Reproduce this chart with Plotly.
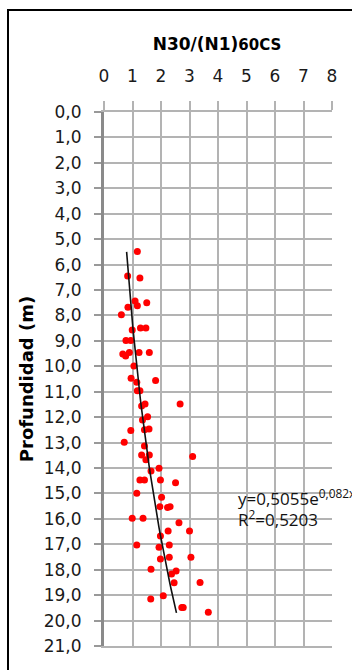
import numpy as np
import plotly.graph_objects as go

# N30/(N1)60cs values (x) and depth in m (y)
ratio = [1.17, 0.83, 1.26, 1.09, 1.17, 1.50, 0.84, 0.61, 0.99, 1.28, 1.47, 0.77, 0.94,
         0.66, 0.76, 0.89, 1.23, 1.59, 1.05, 0.95, 1.15, 1.81, 1.17, 1.26, 1.44, 1.32,
         2.67, 1.53, 1.35, 0.94, 1.42, 1.58, 0.71, 1.42, 1.32, 1.59, 1.47, 3.11, 1.65,
         1.93, 1.26, 1.42, 1.98, 2.51, 1.15, 2.02, 1.96, 2.23, 2.32, 0.99, 1.37, 2.63,
         2.25, 3.00, 1.98, 1.15, 1.93, 2.29, 1.98, 2.29, 3.05, 1.65, 2.53, 2.37, 2.46,
         3.37, 1.64, 2.08, 2.73, 2.78, 3.66]
depth = [5.49, 6.45, 6.53, 7.43, 7.62, 7.50, 7.68, 7.97, 8.57, 8.49, 8.49, 8.99, 8.99,
         9.52, 9.60, 9.46, 9.46, 9.46, 9.99, 10.47, 10.63, 10.56, 10.96, 10.96, 11.48, 11.56,
         11.48, 11.98, 12.11, 12.53, 12.50, 12.47, 12.99, 13.13, 13.49, 13.49, 13.68, 13.55, 14.12,
         14.01, 14.47, 14.47, 14.47, 14.58, 14.99, 15.15, 15.52, 15.55, 15.52, 15.98, 15.98, 16.15,
         16.48, 16.48, 16.67, 17.03, 17.12, 17.03, 17.58, 17.51, 17.51, 17.98, 18.05, 18.17, 18.51,
         18.50, 19.15, 19.02, 19.49, 19.49, 19.67]

# Exponential trendline y=0,5055e^(0,082x)
trend_a = 0.5055
trend_b = 0.082
trend_r2 = "0,5203"
trend_depth_start = 5.5
trend_depth_end = 19.7

x_ticks = list(range(0, 9))
y_ticks = list(range(0, 22))

td = np.linspace(trend_depth_start, trend_depth_end, 60)
tx = trend_a * np.exp(trend_b * td)

fig = go.Figure()
fig.add_trace(go.Scatter(x=ratio, y=depth, mode="markers",
                         marker=dict(color="#ff0000", size=7, line=dict(width=0)),
                         showlegend=False, cliponaxis=False))
fig.add_trace(go.Scatter(x=tx, y=td, mode="lines",
                         line=dict(color="#111111", width=1.6),
                         showlegend=False))

grid = "#b3b3b3"
fig.update_layout(
    width=352, height=670,
    margin=dict(l=104, r=20, t=112, b=24),
    paper_bgcolor="white", plot_bgcolor="white",
    separators=",.",
    font=dict(family="DejaVu Sans", color="#000000"),
    title=dict(text="N30/(N1)<span style='font-size:15px'>60CS</span>",
               x=217 / 352, xref="container", xanchor="center",
               y=1 - 44 / 670, yref="container", yanchor="middle",
               font=dict(family="DejaVu Sans", size=17, weight="bold", color="#000000")),
    xaxis=dict(side="top", range=[0, 8], tickvals=x_ticks, ticktext=[str(v) for v in x_ticks],
               showgrid=True, gridcolor=grid, gridwidth=2,
               ticks="outside", ticklen=9, tickcolor=grid, tickwidth=1.5,
               ticklabelstandoff=12,
               showline=True, linecolor=grid, linewidth=2, mirror=True,
               zeroline=False,
               tickfont=dict(size=17, family="DejaVu Sans", color="#1a1a1a")),
    yaxis=dict(range=[21, 0], tickvals=y_ticks, tickformat=".1f",
               showgrid=True, gridcolor=grid, gridwidth=2,
               ticks="outside", ticklen=7, tickcolor="#999999", tickwidth=1.5,
               ticklabelstandoff=9,
               showline=True, linecolor="#8a8a8a", linewidth=3,
               zeroline=False,
               tickfont=dict(size=17, family="DejaVu Sans", color="#1a1a1a"),
               title=dict(text="Profundidad (m)", standoff=6,
                          font=dict(size=18, family="DejaVu Sans", weight="bold", color="#000000"))),
)

# equation annotation (two lines)
px_per_m = 534 / 21
fig.add_annotation(x=(236 - 104) / 228, xref="paper", y=(497 - 112) / px_per_m, yref="y",
                   xanchor="left", yanchor="middle", align="left", showarrow=False,
                   text="y=0,5055e<sup>0,082x</sup>",
                   font=dict(family="Open Sans", size=17, color="#111111"))
fig.add_annotation(x=(236 - 104) / 228, xref="paper", y=(518 - 112) / px_per_m, yref="y",
                   xanchor="left", yanchor="middle", align="left", showarrow=False,
                   text="R<sup>2</sup>=" + trend_r2,
                   font=dict(family="Open Sans", size=17, color="#111111"))

# outer frame of the chart
fig.add_shape(type="rect", xref="paper", yref="paper",
              x0=(8 - 104) / 228, x1=1.3, y0=-0.2, y1=(646 - 10) / 534,
              line=dict(color="#000000", width=2), layer="below")

fig.write_html("out.html")
